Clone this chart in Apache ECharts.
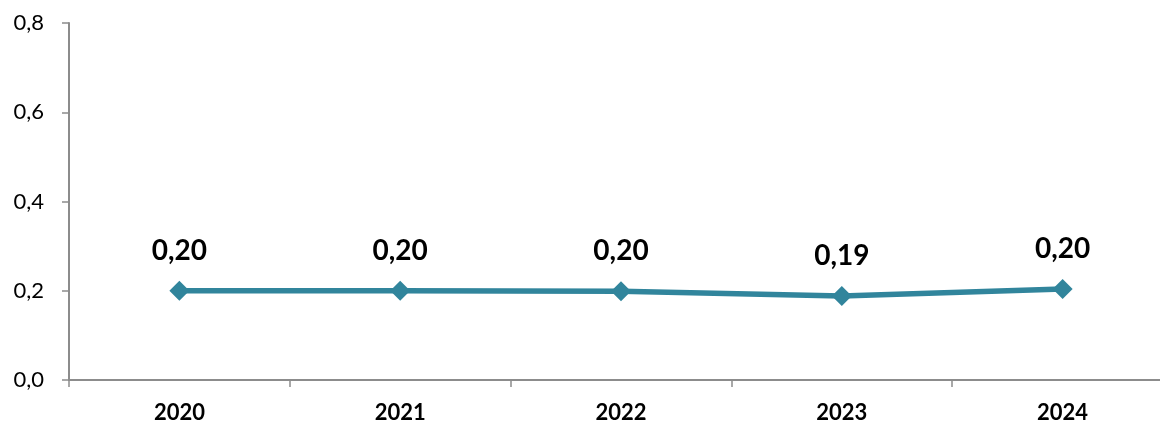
<!DOCTYPE html>
<html><head><meta charset="utf-8">
<script src="https://cdn.jsdelivr.net/npm/echarts@6/dist/echarts.min.js"></script>
<style>html,body{margin:0;padding:0;background:#fff;overflow:hidden}#c{width:1173px;height:425px}</style>
</head><body><div id="c"></div>
<script>
const categories = ['2020','2021','2022','2023','2024'];
const values = [0.200, 0.200, 0.199, 0.188, 0.204];
const yTicks = [0, 0.2, 0.4, 0.6, 0.8];

const chart = echarts.init(document.getElementById('c'), null, {renderer:'canvas'});
const fmt = v => v.toFixed(1).replace('.', ',');
const ff = 'Lato, "Open Sans", sans-serif';
chart.setOption({
  animation:false,
  grid:{left:69, right:0, top:23, bottom:45},
  xAxis:{type:'category', data:categories, boundaryGap:true,
    axisLine:{lineStyle:{color:'#8c8c8c', width:2}},
    axisTick:{show:true, length:7, lineStyle:{color:'#8c8c8c', width:1.5}},
    axisLabel:{color:'#000', fontFamily:ff, fontWeight:'bold', fontSize:22, margin:22}
  },
  yAxis:{type:'value', min:yTicks[0], max:yTicks[yTicks.length-1], interval:0.2,
    splitLine:{show:false},
    axisLine:{show:true, lineStyle:{color:'#8c8c8c', width:2}},
    axisTick:{show:true, length:7, lineStyle:{color:'#8c8c8c', width:1.5}},
    axisLabel:{color:'#000', fontFamily:ff, fontSize:22, margin:25, formatter:fmt}
  },
  series:[{type:'line', data:values, symbol:'diamond', symbolSize:20,
    lineStyle:{color:'#31859c', width:5.5}, itemStyle:{color:'#31859c'},
    label:{show:true, position:'top', distance:16, color:'#000', fontWeight:'bold', fontSize:28,
      fontFamily:ff,
      formatter:p=>p.value.toFixed(2).replace('.', ',')}
  }]
});
</script></body></html>
